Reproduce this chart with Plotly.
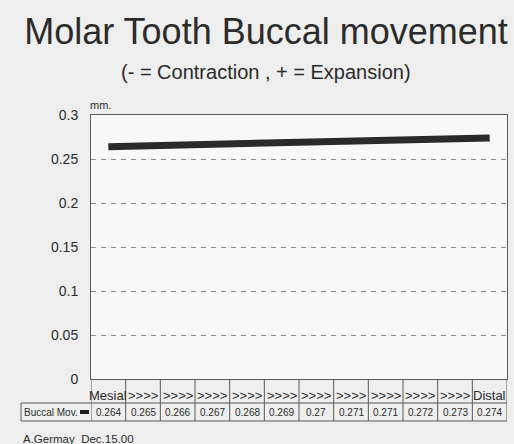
import plotly.graph_objects as go

categories = ["Mesial", ">>>>", ">>>>", ">>>>", ">>>>", ">>>>", ">>>>", ">>>>", ">>>>", ">>>>", ">>>>", "Distal"]
values = [0.264, 0.265, 0.266, 0.267, 0.268, 0.269, 0.27, 0.271, 0.271, 0.272, 0.273, 0.274]
series_name = "Buccal Mov."
y_ticks = [0, 0.05, 0.1, 0.15, 0.2, 0.25, 0.3]
title = "Molar Tooth Buccal movement"
subtitle = "(- = Contraction , + = Expansion)"
unit = "mm."
footer = "A.Germay  Dec.15.00"

FONT = "Liberation Sans, Arial, sans-serif"
INK = "#2b2b2b"
W, H = 514, 444
L, R, T, B = 91, 7, 115, 65
PW, PH = W - L - R, H - T - B


def px(xp):
    return (xp - L) / PW


def py(yp):
    return (H - B - yp) / PH


xs = list(range(len(categories)))

fig = go.Figure()
fig.add_trace(go.Scatter(x=xs, y=values, mode="lines", name=series_name,
                         line=dict(color="#2a2a2a", width=7), showlegend=False))

row_top = py(403)
row_bot = py(421)
label_y = py(395)
left_x = px(21)
GRID = "#5a5a5a"

shapes = []
for i in range(len(categories) + 1):
    shapes.append(dict(type="line", xref="x", yref="paper", x0=i - 0.5, x1=i - 0.5,
                       y0=0, y1=row_bot, line=dict(color=GRID, width=1)))
for yy in (row_top, row_bot):
    shapes.append(dict(type="line", xref="paper", yref="paper", x0=left_x, x1=1, y0=yy, y1=yy,
                       line=dict(color=GRID, width=1)))
shapes.append(dict(type="line", xref="paper", yref="paper", x0=left_x, x1=left_x, y0=row_top, y1=row_bot,
                   line=dict(color=GRID, width=1)))
shapes.append(dict(type="rect", xref="paper", yref="paper", x0=px(80), x1=px(89), y0=py(410), y1=py(414),
                   fillcolor="#1e1e1e", line=dict(width=0)))

row_mid = (row_top + row_bot) / 2
annotations = []
for i, (c, v) in enumerate(zip(categories, values)):
    annotations.append(dict(x=i, y=label_y, xref="x", yref="paper", text=c, showarrow=False,
                            xanchor="center", yanchor="middle",
                            font=dict(family=FONT, size=13, color=INK)))
    annotations.append(dict(x=i, y=row_mid, xref="x", yref="paper",
                            text=f"{v:g}", showarrow=False, xanchor="center", yanchor="middle",
                            font=dict(family=FONT, size=10, color=INK)))
annotations.append(dict(x=px(22), y=row_mid, xref="paper", yref="paper",
                        text=series_name, xanchor="left", yanchor="middle", showarrow=False,
                        font=dict(family=FONT, size=10, color=INK)))
annotations.append(dict(x=px(88), y=py(105), xref="paper", yref="paper", text=unit, xanchor="left",
                        yanchor="middle", showarrow=False, font=dict(family=FONT, size=11, color=INK)))
annotations.append(dict(x=px(21), y=py(439), xref="paper", yref="paper", text=footer,
                        xanchor="left", yanchor="middle", showarrow=False,
                        font=dict(family=FONT, size=11.5, color=INK)))
annotations.append(dict(x=px(266), y=py(72), xref="paper", yref="paper", text=subtitle,
                        xanchor="center", yanchor="middle", showarrow=False,
                        font=dict(family=FONT, size=20, color=INK)))

fig.update_layout(
    width=W, height=H,
    margin=dict(l=L, r=R, t=T, b=B),
    paper_bgcolor="#eeeeee", plot_bgcolor="#f8f8f8",
    title=dict(text=title, x=266 / W, xanchor="center", y=1 - 31 / H, yanchor="middle",
               font=dict(family=FONT, size=36, color=INK)),
    shapes=shapes, annotations=annotations,
    xaxis=dict(range=[-0.5, len(categories) - 0.5], showticklabels=False, showgrid=False,
               zeroline=False, showline=True, linecolor=GRID, linewidth=1, mirror=True, ticks=""),
    yaxis=dict(range=[0, 0.3], tickvals=y_ticks, ticktext=[f"{t:g}" for t in y_ticks],
               showgrid=True, gridcolor="#8a8a8a", griddash="5px,5px", gridwidth=1,
               zeroline=False, showline=True, linecolor=GRID, linewidth=1, mirror=True,
               ticks="", ticklabelstandoff=9, tickfont=dict(family=FONT, size=14, color=INK)),
    showlegend=False,
)

fig.write_html("out.html", config={"displayModeBar": False},
               post_script="document.body.style.margin='0';document.body.style.background='#eeeeee';")
